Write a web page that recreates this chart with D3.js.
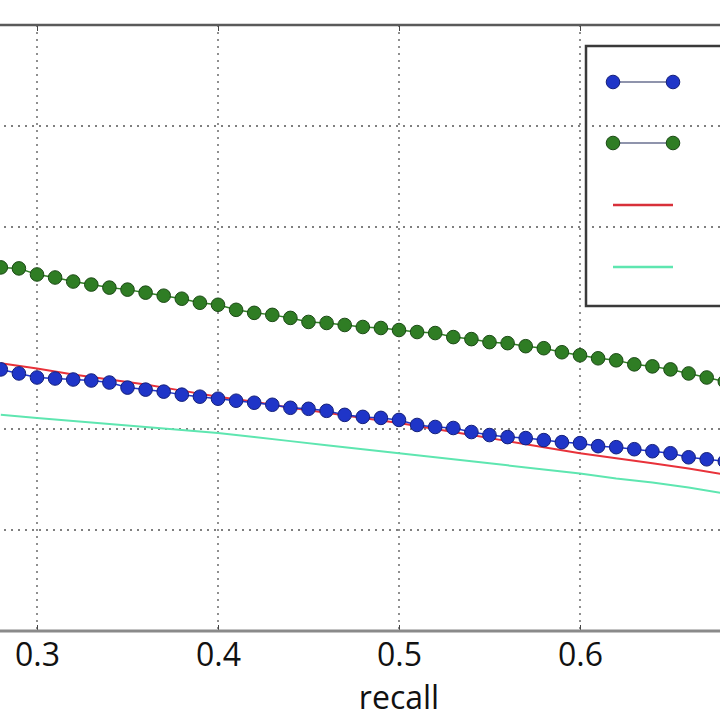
<!DOCTYPE html>
<html>
<head>
<meta charset="utf-8">
<script src="https://cdn.jsdelivr.net/npm/d3@7"></script>
<style>
  body { margin: 0; background: #fff; }
  .tick text { font-family: "Open Sans", sans-serif; }
</style>
</head>
<body>
<div class="chart"></div>
<script>
// recall values of the marker series (one point every 0.01)
var recall = [0.28, 0.29, 0.30, 0.31, 0.32, 0.33, 0.34, 0.35, 0.36, 0.37,
              0.38, 0.39, 0.40, 0.41, 0.42, 0.43, 0.44, 0.45, 0.46, 0.47,
              0.48, 0.49, 0.50, 0.51, 0.52, 0.53, 0.54, 0.55, 0.56, 0.57,
              0.58, 0.59, 0.60, 0.61, 0.62, 0.63, 0.64, 0.65, 0.66, 0.67, 0.68];
var bluePrecision = [0.659, 0.655, 0.651, 0.650, 0.649, 0.648, 0.646, 0.641, 0.639, 0.637,
                     0.634, 0.632, 0.630, 0.628, 0.626, 0.624, 0.621, 0.620, 0.618, 0.614,
                     0.612, 0.611, 0.609, 0.604, 0.602, 0.601, 0.597, 0.594, 0.592, 0.591,
                     0.589, 0.587, 0.586, 0.583, 0.582, 0.580, 0.578, 0.576, 0.572, 0.570, 0.568];
var greenPrecision = [0.760, 0.759, 0.753, 0.750, 0.746, 0.743, 0.740, 0.738, 0.735, 0.732,
                      0.729, 0.725, 0.723, 0.718, 0.715, 0.713, 0.710, 0.706, 0.705, 0.703,
                      0.701, 0.700, 0.698, 0.696, 0.695, 0.691, 0.689, 0.686, 0.685, 0.682,
                      0.680, 0.676, 0.673, 0.670, 0.668, 0.664, 0.662, 0.659, 0.655, 0.651, 0.647];

// plain line series, read every 0.02
var lineRecall = [0.28, 0.30, 0.32, 0.34, 0.36, 0.38, 0.40, 0.42, 0.44, 0.46, 0.48,
                  0.50, 0.52, 0.54, 0.56, 0.58, 0.60, 0.62, 0.64, 0.66, 0.68];
var redPrecision = [0.665, 0.660, 0.654, 0.649, 0.644, 0.638, 0.632, 0.627, 0.621, 0.616, 0.611,
                    0.606, 0.600, 0.594, 0.588, 0.582, 0.576, 0.571, 0.566, 0.561, 0.555];
var cyanPrecision = [0.614, 0.611, 0.608, 0.605, 0.602, 0.599, 0.596, 0.592, 0.588, 0.584, 0.580,
                     0.576, 0.572, 0.568, 0.564, 0.560, 0.556, 0.551, 0.547, 0.542, 0.536];

var xTicks = [0.3, 0.4, 0.5, 0.6];
var yGrid = [0.5, 0.6, 0.8, 0.9];
var labelX = 'recall';

var values = { width: 720, height: 720, top: 25, bottom: 631 };

var x = d3.scaleLinear().domain([0.3, 0.6]).range([37, 580]);
var y = d3.scaleLinear().domain([0.4, 1.0]).range([values.bottom, values.top]);

var svg = d3.select('.chart')
            .append('svg')
            .attr('width', values.width)
            .attr('height', values.height)
            .style('display', 'block');

svg.append('rect').attr('width', values.width).attr('height', values.height).attr('fill', '#fff');

// dotted grid
svg.append('g')
    .selectAll('line')
    .data(yGrid)
    .enter()
    .append('line')
    .attr('x1', -10).attr('x2', values.width + 10)
    .attr('y1', function (d) { return y(d); })
    .attr('y2', function (d) { return y(d); })
    .attr('stroke', '#555')
    .attr('stroke-width', 1.3)
    .attr('stroke-dasharray', '2,5');

svg.append('g')
    .selectAll('line')
    .data(xTicks)
    .enter()
    .append('line')
    .attr('x1', function (d) { return x(d); })
    .attr('x2', function (d) { return x(d); })
    .attr('y1', values.top).attr('y2', values.bottom)
    .attr('stroke', '#555')
    .attr('stroke-width', 1.3)
    .attr('stroke-dasharray', '2,5');

// axes: top border and bottom axis with inward ticks
var xAxis = d3.axisBottom(x).tickValues(xTicks).tickFormat(d3.format('.1f'))
              .tickSizeInner(-6).tickSizeOuter(0).tickPadding(12);
var gx = svg.append('g')
    .attr('transform', 'translate(0,' + values.bottom + ')')
    .call(xAxis);
gx.select('.domain').remove();
gx.selectAll('.tick line').attr('stroke', '#444').attr('stroke-width', 1);
gx.selectAll('.tick text')
    .attr('fill', '#111')
    .style('font-size', '32px');
gx.append('line')
    .attr('x1', -10).attr('x2', values.width + 10)
    .attr('stroke', '#8a8a8a').attr('stroke-width', 3);

var gTop = svg.append('g').attr('transform', 'translate(0,' + values.top + ')')
    .call(d3.axisTop(x).tickValues(xTicks).tickSizeInner(-6).tickSizeOuter(0).tickFormat(''));
gTop.select('.domain').remove();
gTop.selectAll('.tick line').attr('stroke', '#444').attr('stroke-width', 1);
gTop.append('line')
    .attr('x1', -10).attr('x2', values.width + 10)
    .attr('stroke', '#5a5a5a').attr('stroke-width', 2.5);

svg.append('text')
    .attr('x', x(0.5))
    .attr('y', 709)
    .attr('text-anchor', 'middle')
    .style('font-family', '"Open Sans", sans-serif')
    .style('font-size', '32px')
    .attr('fill', '#111')
    .text(labelX);

// series
var line = d3.line()
             .x(function (d) { return x(d[0]); })
             .y(function (d) { return y(d[1]); });

var cyanData = d3.zip(lineRecall, cyanPrecision);
var redData = d3.zip(lineRecall, redPrecision);
var blueData = d3.zip(recall, bluePrecision);
var greenData = d3.zip(recall, greenPrecision);

svg.append('path').datum(cyanData).attr('d', line)
    .attr('fill', 'none').attr('stroke', '#5ee6b0').attr('stroke-width', 2);
svg.append('path').datum(redData).attr('d', line)
    .attr('fill', 'none').attr('stroke', '#e8323a').attr('stroke-width', 2);

function dotted(data, fill, edge) {
  svg.append('path').datum(data).attr('d', line)
      .attr('fill', 'none').attr('stroke', fill).attr('stroke-width', 1.5);
  svg.append('g')
      .selectAll('circle')
      .data(data)
      .enter()
      .append('circle')
      .attr('cx', function (d) { return x(d[0]); })
      .attr('cy', function (d) { return y(d[1]); })
      .attr('r', 6.8)
      .attr('fill', fill)
      .attr('stroke', edge)
      .attr('stroke-width', 1);
}
dotted(blueData, '#1f35c8', '#15207a');
dotted(greenData, '#2f7d24', '#1c4a16');

// legend (labels fall outside the crop)
var legend = svg.append('g');
legend.append('rect')
    .attr('x', 586).attr('y', 46)
    .attr('width', 200).attr('height', 260)
    .attr('fill', 'none')
    .attr('stroke', '#3a3a3a')
    .attr('stroke-width', 2.5);

var legendRows = [
  { y: 82, color: '#1f35c8', edge: '#15207a', marker: true },
  { y: 143, color: '#2f7d24', edge: '#1c4a16', marker: true },
  { y: 205, color: '#d8303a', marker: false },
  { y: 267, color: '#5ee6b0', marker: false }
];
legendRows.forEach(function (r) {
  legend.append('line')
      .attr('x1', 613).attr('x2', 673)
      .attr('y1', r.y).attr('y2', r.y)
      .attr('stroke', r.marker ? '#6a7090' : r.color)
      .attr('stroke-width', r.marker ? 1.5 : 2.5);
  if (r.marker) {
    [613, 673].forEach(function (cx) {
      legend.append('circle')
          .attr('cx', cx).attr('cy', r.y).attr('r', 6.8)
          .attr('fill', r.color).attr('stroke', r.edge).attr('stroke-width', 1);
    });
  }
});
</script>
</body>
</html>
